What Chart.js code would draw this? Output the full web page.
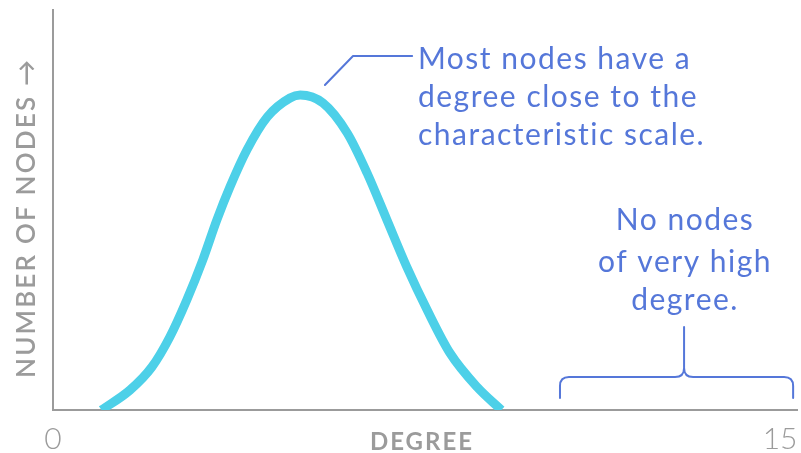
<!DOCTYPE html>
<html>
<head>
<meta charset="utf-8">
<script src="https://cdn.jsdelivr.net/npm/chart.js@4.4.1/dist/chart.umd.min.js"></script>
<style>
  body { margin: 0; background: #fff; }
  #wrap { position: relative; width: 801px; height: 453px; }
</style>
</head>
<body>
<div id="wrap"><canvas id="degreeChart"></canvas></div>
<script>
// degree values (x) and number of nodes (y)
var degrees = [1.0, 1.59, 2.04, 2.41, 2.76, 3.09, 3.38, 3.65, 4.00, 4.42, 4.89, 5.10, 5.57, 6.07, 6.48, 6.89, 7.30, 7.72, 8.19, 8.75, 9.25];
var nodeCounts = [0, 5, 10.75, 18.25, 27.5, 37.5, 47.5, 55.75, 65, 73.25, 78, 78.75, 76.75, 69.25, 59.25, 47.5, 35.75, 25, 14.25, 5.75, 0];
var xTicks = [0, 15];

var peakNote = ["Most nodes have a", "degree close to the", "characteristic scale."];
var tailNote = ["No nodes", "of very high", "degree."];

var gray = '#9b9b9b';
var noteBlue = '#5577d9';

var points = [];
for (var i = 0; i < degrees.length; i++) {
    points.push({ x: degrees[i], y: nodeCounts[i] });
}

var notesPlugin = {
    id: 'notes',
    afterDraw: function (chart) {
        var ctx = chart.ctx;
        var xs = chart.scales.x;
        var ys = chart.scales.y;
        function px(v) { return xs.getPixelForValue(v); }
        function py(v) { return ys.getPixelForValue(v); }

        ctx.save();
        // y axis title, reads bottom to top
        ctx.fillStyle = gray;
        ctx.font = '600 26px Lato';
        ctx.letterSpacing = '2.2px';
        ctx.textAlign = 'left';
        ctx.textBaseline = 'alphabetic';
        ctx.translate(35, 378);
        ctx.rotate(-Math.PI / 2);
        ctx.fillText('NUMBER OF NODES \u2192', 0, 0);
        ctx.restore();

        ctx.save();
        // x axis title
        ctx.fillStyle = gray;
        ctx.font = 'bold 24px Lato';
        ctx.letterSpacing = '2px';
        ctx.textAlign = 'center';
        ctx.fillText('DEGREE', 422, 450);
        ctx.restore();

        ctx.save();
        ctx.strokeStyle = noteBlue;
        ctx.fillStyle = noteBlue;
        ctx.lineWidth = 2;
        ctx.lineCap = 'round';
        ctx.lineJoin = 'round';

        // leader line to the peak
        ctx.beginPath();
        ctx.moveTo(px(5.61), py(81.25));
        ctx.lineTo(px(6.19), py(88.5));
        ctx.lineTo(px(7.41), py(88.5));
        ctx.stroke();

        ctx.font = '30px Lato';
        ctx.letterSpacing = '1.5px';
        ctx.textAlign = 'left';
        var base = [85.25, 75.75, 66.25];
        for (var i = 0; i < peakNote.length; i++) {
            ctx.fillText(peakNote[i], px(7.53), py(base[i]));
        }

        // bracket over the empty tail
        var l = px(10.46), r = px(15.27), c = px(13.02);
        var yb = py(3), yh = py(8.25), yt = py(20.75);
        var rad = 9;
        ctx.beginPath();
        ctx.moveTo(l, yb);
        ctx.lineTo(l, yh + rad);
        ctx.quadraticCurveTo(l, yh, l + rad, yh);
        ctx.lineTo(c - rad, yh);
        ctx.quadraticCurveTo(c, yh, c, yh - rad);
        ctx.lineTo(c, yt);
        ctx.moveTo(c, yh - rad);
        ctx.quadraticCurveTo(c, yh, c + rad, yh);
        ctx.lineTo(r - rad, yh);
        ctx.quadraticCurveTo(r, yh, r, yh + rad);
        ctx.lineTo(r, yb);
        ctx.stroke();

        ctx.textAlign = 'center';
        var base2 = [45, 34.5, 25];
        for (var j = 0; j < tailNote.length; j++) {
            ctx.fillText(tailNote[j], px(13.04), py(base2[j]));
        }
        ctx.restore();
    }
};

var ctx = document.getElementById('degreeChart').getContext('2d');
var degreeChart = new Chart(ctx, {
    type: 'line',
    data: {
        datasets: [{
            data: points,
            borderColor: '#4dd0e8',
            borderWidth: 9,
            pointRadius: 0,
            cubicInterpolationMode: 'monotone',
            fill: false,
            clip: 0
        }]
    },
    options: {
        animation: false,
        responsive: true,
        maintainAspectRatio: false,
        devicePixelRatio: 1,
        layout: { padding: { top: 10, right: 4, left: 0, bottom: 0 } },
        plugins: {
            legend: { display: false },
            tooltip: { enabled: false }
        },
        scales: {
            x: {
                type: 'linear',
                min: 0,
                max: 15.35,
                grid: { display: false },
                border: { display: true, color: gray, width: 2 },
                afterBuildTicks: function (scale) {
                    scale.ticks = xTicks.map(function (v) { return { value: v }; });
                },
                afterFit: function (scale) {
                    scale.height = 43;
                    scale.paddingLeft = 0;
                    scale.paddingRight = 0;
                },
                ticks: {
                    color: gray,
                    font: { family: 'Lato', size: 30, weight: 300 },
                    padding: 3,
                    maxRotation: 0,
                    autoSkip: false
                }
            },
            y: {
                min: 0,
                max: 100,
                grid: { display: false },
                border: { display: true, color: gray, width: 2 },
                ticks: { display: false },
                afterFit: function (scale) {
                    scale.width = 53;
                    scale.paddingTop = 0;
                    scale.paddingBottom = 0;
                }
            }
        }
    },
    plugins: [notesPlugin]
});
</script>
</body>
</html>
